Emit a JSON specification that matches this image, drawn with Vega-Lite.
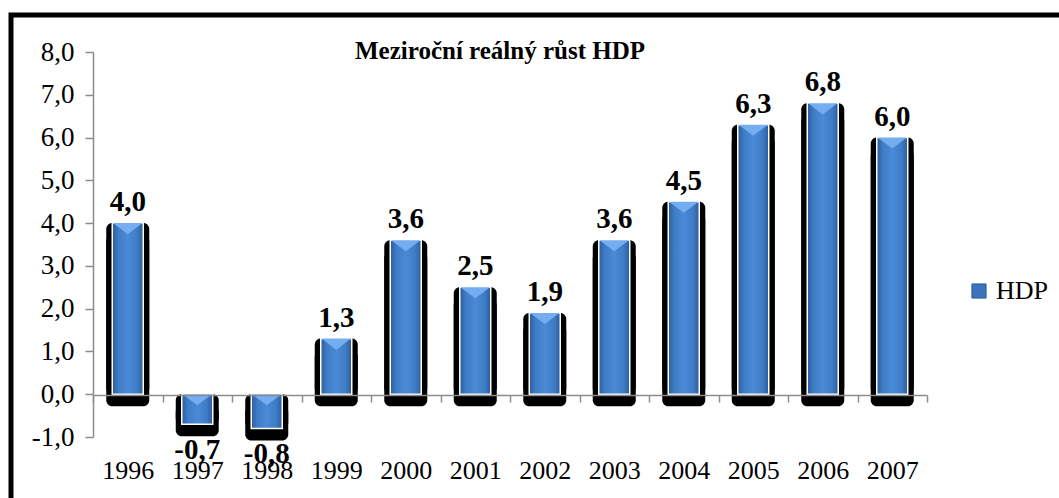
{
  "$schema": "https://vega.github.io/schema/vega-lite/v6.json",
  "width": 1048,
  "height": 483,
  "autosize": {"type": "none"},
  "padding": {"left": 11, "top": 15, "right": 0, "bottom": 0},
  "background": "white",
  "config": {
    "font": "Liberation Serif",
    "locale": {"number": {"decimal": ",", "thousands": " ", "grouping": [3], "currency": ["", " Kč"], "minus": "-"}},
    "view": {"stroke": "black", "strokeWidth": 5, "strokeDash": [1048, 1531, 483]}
  },
  "title": {
    "text": "Meziroční reálný růst HDP",
    "fontSize": 25,
    "font": "Liberation Serif",
    "fontWeight": "bold",
    "color": "black",
    "anchor": "middle",
    "frame": "group",
    "offset": 0,
    "dx": -35,
    "dy": 69,
    "baseline": "alphabetic"
  },
  "data": {
    "values": [
      {"year": "1996", "value": 4.0},
      {"year": "1997", "value": -0.7},
      {"year": "1998", "value": -0.8},
      {"year": "1999", "value": 1.3},
      {"year": "2000", "value": 3.6},
      {"year": "2001", "value": 2.5},
      {"year": "2002", "value": 1.9},
      {"year": "2003", "value": 3.6},
      {"year": "2004", "value": 4.5},
      {"year": "2005", "value": 6.3},
      {"year": "2006", "value": 6.8},
      {"year": "2007", "value": 6.0}
    ]
  },
  "encoding": {
    "x": {
      "field": "year",
      "type": "ordinal",
      "scale": {"range": [82, 916], "paddingInner": 0, "paddingOuter": 0},
      "axis": {
        "title": null,
        "offset": -103,
        "tickBand": "extent",
        "tickSize": 7,
        "labelPadding": 55,
        "labelAngle": 0,
        "labelFontSize": 26,
        "labelFont": "Liberation Serif",
        "labelColor": "black",
        "domainColor": "#8c8c8c",
        "tickColor": "#8c8c8c",
        "domainWidth": 1.5,
        "tickWidth": 1.5,
        "zindex": 1
      }
    },
    "y": {
      "field": "value",
      "type": "quantitative",
      "scale": {"domain": [-1, 8], "range": [422, 37], "nice": false, "zero": false},
      "axis": {
        "title": null,
        "values": [-1, 0, 1, 2, 3, 4, 5, 6, 7, 8],
        "format": ".1f",
        "offset": -82,
        "grid": false,
        "tickSize": 8,
        "labelPadding": 11,
        "labelFontSize": 27,
        "labelFont": "Liberation Serif",
        "labelColor": "black",
        "domainColor": "#8c8c8c",
        "tickColor": "#8c8c8c",
        "domainWidth": 1.5,
        "tickWidth": 1.5
      }
    }
  },
  "layer": [
    {
      "mark": {"type": "bar", "color": "black", "size": 43, "cornerRadius": 6},
      "encoding": {"y2": {"datum": 0}}
    },
    {
      "mark": {"type": "bar", "color": "black", "size": 43, "cornerRadius": 6, "yOffset": 12, "y2Offset": 12},
      "encoding": {"y2": {"datum": 0}}
    },
    {
      "mark": {
        "type": "bar",
        "size": 31,
        "stroke": "white",
        "strokeWidth": 1.5,
        "fill": {
          "gradient": "linear",
          "x1": 0, "y1": 0, "x2": 1, "y2": 0,
          "stops": [
            {"offset": 0, "color": "#2c5c9c"},
            {"offset": 0.2, "color": "#3f7cc6"},
            {"offset": 0.5, "color": "#4a8ad6"},
            {"offset": 0.8, "color": "#3f7cc6"},
            {"offset": 1, "color": "#2c5c9c"}
          ]
        }
      },
      "encoding": {"y2": {"datum": 0}}
    },
    {
      "transform": [{"filter": "datum.value > 0"}],
      "mark": {"type": "point", "shape": "M-1,0L1,0L0,0.75Z", "size": 870, "filled": true, "fill": "#74adf0", "opacity": 1, "strokeWidth": 0}
    },
    {
      "transform": [{"filter": "datum.value < 0"}],
      "mark": {"type": "point", "shape": "M-1,0L1,0L0,0.75Z", "size": 870, "filled": true, "fill": "#74adf0", "opacity": 1, "strokeWidth": 0},
      "encoding": {"y": {"datum": 0}}
    },
    {
      "transform": [{"filter": "datum.value > 0"}],
      "mark": {"type": "text", "baseline": "alphabetic", "dy": -12, "fontSize": 29, "fontWeight": "bold", "font": "Liberation Serif", "color": "black"},
      "encoding": {"text": {"field": "value", "type": "quantitative", "format": ".1f"}}
    },
    {
      "transform": [{"filter": "datum.value < 0"}],
      "mark": {"type": "text", "baseline": "top", "dy": 12, "fontSize": 29, "fontWeight": "bold", "font": "Liberation Serif", "color": "black"},
      "encoding": {"text": {"field": "value", "type": "quantitative", "format": ".1f"}}
    },
    {
      "mark": {"type": "point", "shape": "square", "filled": true, "opacity": 0},
      "encoding": {
        "color": {
          "datum": "HDP",
          "scale": {"range": ["#3b74ba"]},
          "legend": {
            "title": null,
            "orient": "none",
            "legendX": 955,
            "legendY": 263,
            "symbolType": "square",
            "symbolSize": 200,
            "symbolOpacity": 1,
            "symbolFillColor": "#3b74ba",
            "symbolStrokeColor": "#2c5c9c",
            "symbolStrokeWidth": 1,
            "labelFontSize": 26,
            "labelFont": "Liberation Serif",
            "labelColor": "black",
            "labelOffset": 4
          }
        }
      }
    }
  ]
}
